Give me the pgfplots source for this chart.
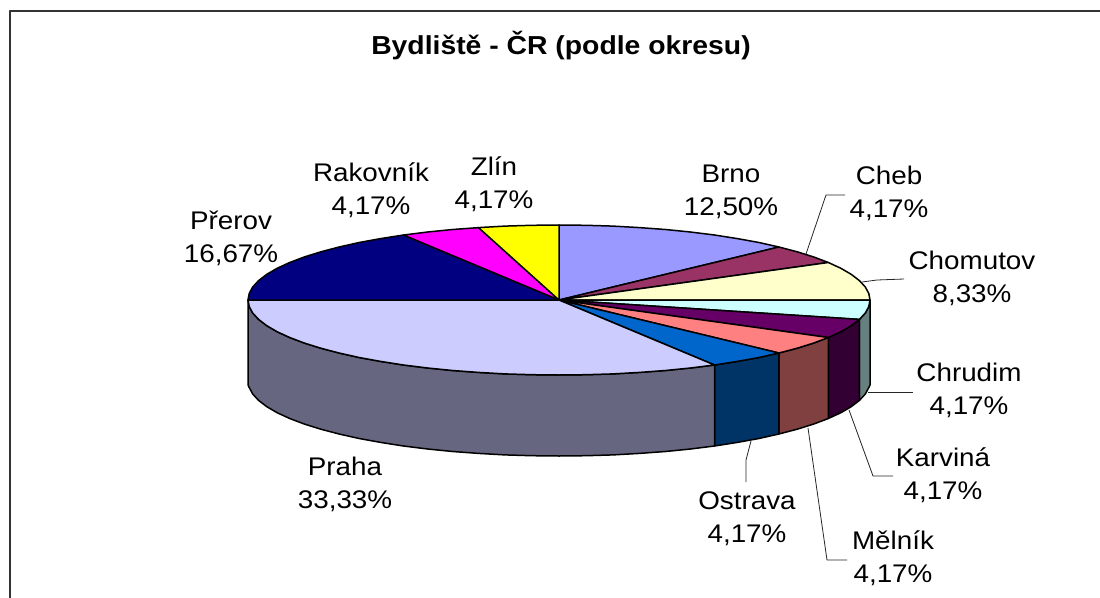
\documentclass[border=0pt]{standalone}
\usepackage{fontspec}
\setmainfont[FakeStretch=1.09]{Liberation Sans}
\usepackage{pgfplots}
\pgfplotsset{compat=1.18}
\definecolor{cBrno}{HTML}{9999FF}
\definecolor{cCheb}{HTML}{993366}
\definecolor{cChomutov}{HTML}{FFFFCC}
\definecolor{cChrudim}{HTML}{CCFFFF}
\definecolor{cKarvina}{HTML}{660066}
\definecolor{cMelnik}{HTML}{FF8080}
\definecolor{cOstrava}{HTML}{0066CC}
\definecolor{cPraha}{HTML}{CCCCFF}
\definecolor{cPrerov}{HTML}{000080}
\definecolor{cRakovnik}{HTML}{FF00FF}
\definecolor{cZlin}{HTML}{FFFF00}
\definecolor{sChrudim}{HTML}{668080}
\definecolor{sKarvina}{HTML}{330033}
\definecolor{sMelnik}{HTML}{804040}
\definecolor{sOstrava}{HTML}{003366}
\definecolor{sPraha}{HTML}{666680}
\begin{document}
\begin{tikzpicture}
\useasboundingbox (0,0) rectangle (1100pt,597pt);
\begin{axis}[
    at={(0,0)}, anchor=south west,
    width=1100pt, height=597pt, scale only axis,
    xmin=0, xmax=1100, ymin=0, ymax=597,
    y dir=reverse, hide axis,
    every axis plot/.append style={line join=round},
    nodes={font=\fontsize{25.5}{33}\selectfont, align=center, inner sep=0pt},
  ]
  % frame, runs off the bottom and the right of the picture
  \addplot[draw=black!80, line width=1.3pt] coordinates {(10,610) (10,11) (1110,11)};

  % side faces, front half of the rim
  \addplot[draw=black, line width=1.5pt, fill=sChrudim] coordinates {
    (870,300) (868.8,306.5) (865.3,313) (859.4,319.4)
    (859.4,400.4) (865.3,394) (868.8,387.5) (870,385) (870,300)};
  \addplot[draw=black, line width=1.5pt, fill=sKarvina] coordinates {
    (859.4,319.4) (851.2,325.7) (840.9,331.7) (828.3,337.5)
    (828.3,418.5) (840.9,412.7) (851.2,406.7) (859.4,400.4) (859.4,319.4)};
  \addplot[draw=black, line width=1.5pt, fill=sMelnik] coordinates {
    (828.3,337.5) (813.8,343) (797.2,348.2) (778.9,353)
    (778.9,434) (797.2,429.2) (813.8,424) (828.3,418.5) (828.3,337.5)};
  \addplot[draw=black, line width=1.5pt, fill=sOstrava] coordinates {
    (778.9,353) (758.9,357.5) (737.4,361.4) (714.5,365)
    (714.5,446) (737.4,442.4) (758.9,438.5) (778.9,434) (778.9,353)};
  \addplot[draw=black, line width=1.5pt, fill=sPraha] coordinates {
    (714.5,365) (690.4,368) (665.4,370.5) (639.5,372.4) (613,373.9) (586.1,374.7) (559,375)
    (531.9,374.7) (505,373.9) (478.5,372.4) (452.6,370.5) (427.6,368) (403.5,365)
    (380.6,361.4) (359.1,357.5) (339.1,353) (320.8,348.2) (304.2,343) (289.7,337.5)
    (277.1,331.7) (266.8,325.7) (258.6,319.4) (252.7,313) (249.2,306.5) (248,300)
    (248,385) (249.2,387.5) (252.7,394) (258.6,400.4) (266.8,406.7) (277.1,412.7)
    (289.7,418.5) (304.2,424) (320.8,429.2) (339.1,434) (359.1,438.5) (380.6,442.4)
    (403.5,446) (427.6,449) (452.6,451.5) (478.5,453.4) (505,454.9) (531.9,455.7) (559,456)
    (586.1,455.7) (613,454.9) (639.5,453.4) (665.4,451.5) (690.4,449) (714.5,446) (714.5,365)};

  % top wedges: 12.50, 4.17, 8.33, 4.17, 4.17, 4.17, 4.17, 33.33, 16.67, 4.17, 4.17 %
  \addplot[draw=black, line width=1.5pt, fill=cBrno] coordinates {
    (559,300) (559,225) (586.1,225.3) (613,226.1) (639.5,227.6) (665.4,229.5) (690.4,232)
    (714.5,235) (737.4,238.6) (758.9,242.5) (778.9,247) (559,300)};
  \addplot[draw=black, line width=1.5pt, fill=cCheb] coordinates {
    (559,300) (778.9,247) (797.2,251.8) (813.8,257) (828.3,262.5) (559,300)};
  \addplot[draw=black, line width=1.5pt, fill=cChomutov] coordinates {
    (559,300) (828.3,262.5) (840.9,268.3) (851.2,274.3) (859.4,280.6) (865.3,287)
    (868.8,293.5) (870,300) (559,300)};
  \addplot[draw=black, line width=1.5pt, fill=cChrudim] coordinates {
    (559,300) (870,300) (868.8,306.5) (865.3,313) (859.4,319.4) (559,300)};
  \addplot[draw=black, line width=1.5pt, fill=cKarvina] coordinates {
    (559,300) (859.4,319.4) (851.2,325.7) (840.9,331.7) (828.3,337.5) (559,300)};
  \addplot[draw=black, line width=1.5pt, fill=cMelnik] coordinates {
    (559,300) (828.3,337.5) (813.8,343) (797.2,348.2) (778.9,353) (559,300)};
  \addplot[draw=black, line width=1.5pt, fill=cOstrava] coordinates {
    (559,300) (778.9,353) (758.9,357.5) (737.4,361.4) (714.5,365) (559,300)};
  \addplot[draw=black, line width=1.5pt, fill=cPraha] coordinates {
    (559,300) (714.5,365) (690.4,368) (665.4,370.5) (639.5,372.4) (613,373.9) (586.1,374.7) (559,375)
    (531.9,374.7) (505,373.9) (478.5,372.4) (452.6,370.5) (427.6,368) (403.5,365)
    (380.6,361.4) (359.1,357.5) (339.1,353) (320.8,348.2) (304.2,343) (289.7,337.5)
    (277.1,331.7) (266.8,325.7) (258.6,319.4) (252.7,313) (249.2,306.5) (248,300) (559,300)};
  \addplot[draw=black, line width=1.5pt, fill=cPrerov] coordinates {
    (559,300) (248,300) (249.2,293.5) (252.7,287) (258.6,280.6) (266.8,274.3) (277.1,268.3)
    (289.7,262.5) (304.2,257) (320.8,251.8) (339.1,247) (359.1,242.5) (380.6,238.6) (403.5,235) (559,300)};
  \addplot[draw=black, line width=1.5pt, fill=cRakovnik] coordinates {
    (559,300) (403.5,235) (427.6,232) (452.6,229.5) (478.5,227.6) (559,300)};
  \addplot[draw=black, line width=1.5pt, fill=cZlin] coordinates {
    (559,300) (478.5,227.6) (505,226.1) (531.9,225.3) (559,225) (559,300)};

  % leader lines
  \addplot[draw=black!85, line width=0.8pt] coordinates {(806,254) (826,195) (845,195)};
  \addplot[draw=black!85, line width=0.8pt] coordinates {(862,282) (877,280) (904,279)};
  \addplot[draw=black!85, line width=0.8pt] coordinates {(868,392) (913,392)};
  \addplot[draw=black!85, line width=0.8pt] coordinates {(849,410) (873,476) (893,476)};
  \addplot[draw=black!85, line width=0.8pt] coordinates {(808,428) (827,560) (847,560)};
  \addplot[draw=black!85, line width=0.8pt] coordinates {(751,441) (746,460) (746,482)};

  % labels
  \node[font=\fontsize{26}{33}\selectfont] at (axis cs:561,46) {\textbf{Bydliště - ČR (podle okresu)}};
  \node at (axis cs:731,192) {Brno\\12,50\%};
  \node at (axis cs:889,193) {Cheb\\4,17\%};
  \node at (axis cs:972,278) {Chomutov\\8,33\%};
  \node at (axis cs:969,390) {Chrudim\\4,17\%};
  \node at (axis cs:943,475) {Karviná\\4,17\%};
  \node at (axis cs:893,558) {Mělník\\4,17\%};
  \node at (axis cs:747,519) {Ostrava\\4,17\%};
  \node at (axis cs:345,484) {Praha\\33,33\%};
  \node at (axis cs:231,238) {Přerov\\16,67\%};
  \node at (axis cs:371,190) {Rakovník\\4,17\%};
  \node at (axis cs:494,184) {Zlín\\4,17\%};
\end{axis}
\end{tikzpicture}
\end{document}
